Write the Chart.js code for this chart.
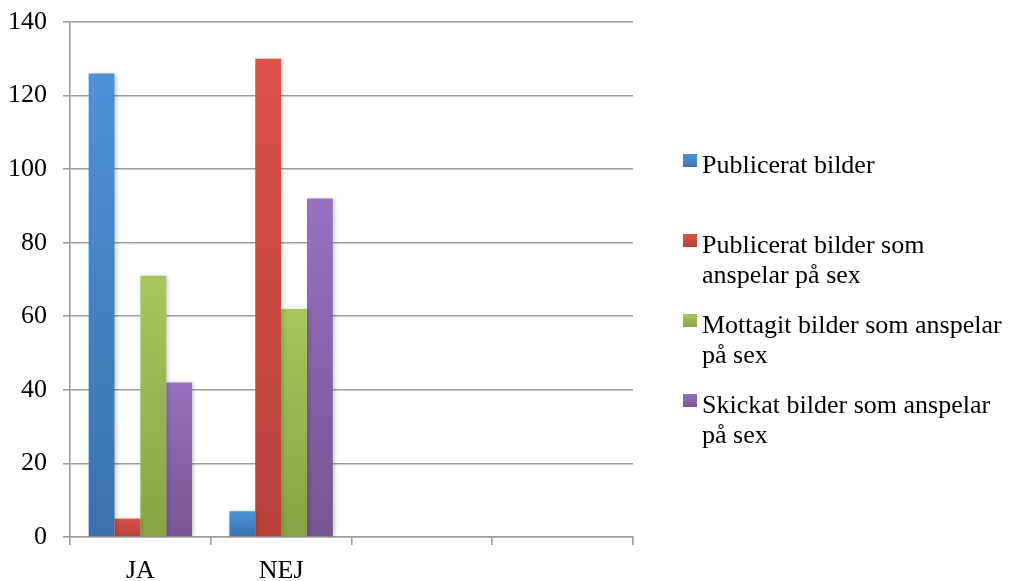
<!DOCTYPE html>
<html>
<head>
<meta charset="utf-8">
<script src="https://cdn.jsdelivr.net/npm/chart.js@4.4.1/dist/chart.umd.min.js"></script>
<style>
  html, body { margin: 0; padding: 0; background: #fff; }
  #wrap { width: 1014px; height: 581px; }
</style>
</head>
<body>
<div id="wrap"><canvas id="grafico"></canvas></div>
<script>
// data läst från bilden
const kategorier = ['JA', 'NEJ', '', ''];
const publicerat = [126, 7];
const publiceratSex = [5, 130];
const mottagit = [71, 62];
const skickat = [42, 92];
const serieNamn = [
  'Publicerat bilder',
  'Publicerat bilder som anspelar på sex',
  'Mottagit bilder som anspelar på sex',
  'Skickat bilder som anspelar på sex'
];
const yMin = 0;
const yMax = 140;
const yStep = 20;

// färger: topp / botten av varje stapel
const farger = [
  ['rgb(76,146,216)', 'rgb(57,115,172)'],
  ['rgb(219,82,73)', 'rgb(182,65,57)'],
  ['rgb(166,199,92)', 'rgb(136,164,68)'],
  ['rgb(150,114,192)', 'rgb(118,86,146)']
];

const typsnitt = '"Liberation Serif", "Times New Roman", serif';
const grå = 'rgb(158,158,158)';

// gradient per stapel
function gradient(top, bottom) {
  return function (ctx) {
    const chart = ctx.chart;
    const y = chart.scales && chart.scales.y;
    if (!y || ctx.raw == null || !chart.chartArea) return top;
    const y0 = y.getPixelForValue(ctx.raw);
    const y1 = y.getPixelForValue(0);
    if (!isFinite(y0) || !isFinite(y1) || y1 - y0 < 1) return top;
    const g = chart.ctx.createLinearGradient(0, y0, 0, y1);
    g.addColorStop(0, top);
    g.addColorStop(1, bottom);
    return g;
  };
}

function radbryt(c, text, maxBredd) {
  const ord = text.split(' ');
  const rader = [];
  let rad = '';
  ord.forEach(o => {
    const test = rad ? rad + ' ' + o : o;
    if (c.measureText(test).width > maxBredd && rad) {
      rader.push(rad);
      rad = o;
    } else {
      rad = test;
    }
  });
  if (rad) rader.push(rad);
  return rader;
}

// egen legend till höger, med radbrytning
const sidoLegend = {
  id: 'sidoLegend',
  afterDraw(chart) {
    const c = chart.ctx;
    c.save();
    c.font = '26px ' + typsnitt;
    c.fillStyle = '#000';
    c.textBaseline = 'alphabetic';
    chart.data.datasets.forEach((ds, i) => {
      const bas = 173 + i * 80;
      const g = c.createLinearGradient(0, bas - 19, 0, bas - 6);
      g.addColorStop(0, farger[i][0]);
      g.addColorStop(1, farger[i][1]);
      c.fillStyle = g;
      c.fillRect(683, bas - 19, 14, 13);
      c.fillStyle = '#000';
      radbryt(c, ds.label, 308).forEach((r, j) => {
        c.fillText(r, 702, bas + j * 30);
      });
    });
    c.restore();
  }
};

// lite skugga bakom staplarna
const skugga = {
  id: 'skugga',
  beforeDatasetsDraw(chart) {
    const c = chart.ctx;
    c.save();
    c.shadowColor = 'rgba(0,0,0,0.18)';
    c.shadowBlur = 4;
    c.shadowOffsetX = 2;
    c.shadowOffsetY = 0;
  },
  afterDatasetsDraw(chart) {
    chart.ctx.restore();
  }
};

const serier = [publicerat, publiceratSex, mottagit, skickat];

const data = {
  labels: kategorier,
  datasets: serier.map((v, i) => ({
    label: serieNamn[i],
    data: v,
    backgroundColor: gradient(farger[i][0], farger[i][1]),
    borderWidth: 0,
    categoryPercentage: 0.735,
    barPercentage: 1
  }))
};

const options = {
  responsive: true,
  maintainAspectRatio: false,
  animation: false,
  devicePixelRatio: 1,
  layout: { padding: { left: 0, right: 381, top: 22, bottom: 0 } },
  plugins: {
    legend: { display: false },
    tooltip: { enabled: false }
  },
  scales: {
    x: {
      afterFit(scale) { scale.height = 44; },
      grid: {
        drawOnChartArea: false,
        tickLength: 8,
        color: grå,
        lineWidth: 1.6
      },
      border: { color: grå, width: 1.6 },
      ticks: {
        color: '#000',
        padding: 11,
        font: { family: typsnitt, size: 26 }
      }
    },
    y: {
      min: yMin,
      max: yMax,
      afterFit(scale) {
        scale.width = 70;
        scale.paddingTop = 0;
        scale.paddingBottom = 0;
      },
      grid: {
        tickLength: 7,
        color: grå,
        lineWidth: 1.6
      },
      border: { color: grå, width: 1.6 },
      ticks: {
        stepSize: yStep,
        color: '#000',
        padding: 16,
        font: { family: typsnitt, size: 26 }
      }
    }
  }
};

const grafico = new Chart(document.getElementById('grafico'), {
  type: 'bar',
  data: data,
  options: options,
  plugins: [skugga, sidoLegend]
});
</script>
</body>
</html>
